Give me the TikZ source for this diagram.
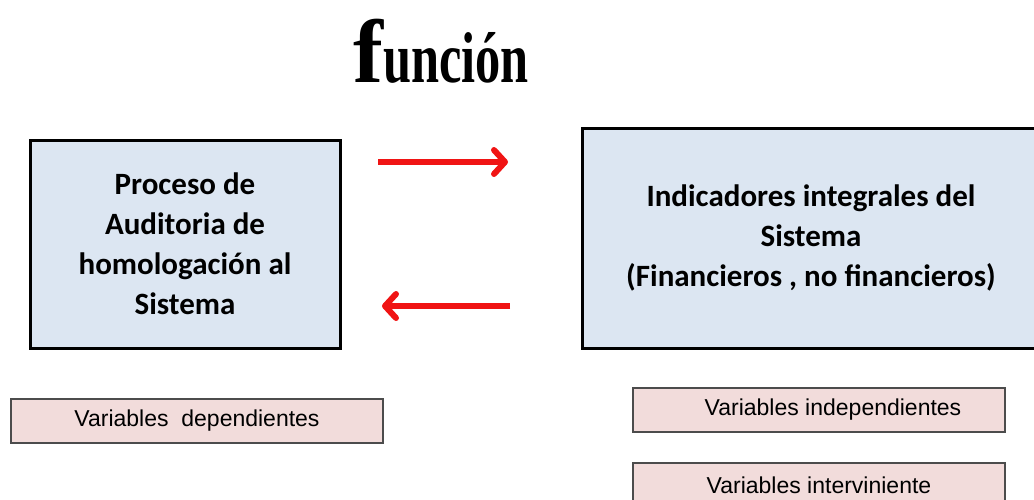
\documentclass[tikz,border=0pt]{standalone}
\usepackage{fontspec}
\usepackage{graphicx}
\setmainfont{Carlito}
\newfontfamily\titulofont{Liberation Serif}
\newfontfamily\arialfont{Liberation Sans}
\usetikzlibrary{arrows.meta}
\definecolor{azulcaja}{RGB}{220,230,242}
\definecolor{rosacaja}{RGB}{242,220,219}
\definecolor{rojoflecha}{RGB}{240,20,20}

\begin{document}
\begin{tikzpicture}[x=1pt, y=-1pt,
    caja/.style={draw=black, line width=3pt, fill=azulcaja, align=center,
      inner sep=0pt, font=\bfseries\fontsize{31}{40}\selectfont},
    varcaja/.style={draw=black!70, line width=2pt, fill=rosacaja,
      inner sep=0pt, minimum width=372pt, minimum height=44pt,
      font=\arialfont\fontsize{23}{26}\selectfont},
    flecha/.style={rojoflecha, line width=6pt,
      -{Straight Barb[length=11pt,width=24pt,round]}}]
  \useasboundingbox (0,0) rectangle (1034,499);

  % titulo
  \node (titulo) [anchor=base west, inner sep=0pt] at (353,82)
    {\titulofont\bfseries{\fontsize{90}{90}\selectfont f}%
     \scalebox{0.7}[1]{\fontsize{72}{72}\selectfont unción}};

  % cajas principales
  \node (proceso) [caja, minimum width=310pt, minimum height=208pt]
    at (185,244) {Proceso de\\Auditoria de\\homologación al\\Sistema};
  \node (indicadores) [caja, minimum width=458pt, minimum height=220pt]
    at (811,238) {Indicadores integrales del\\Sistema\\(Financieros , no financieros)};

  % flechas
  \coordinate (ida1) at (378,162);
  \coordinate (ida2) at (508,162);
  \coordinate (vuelta1) at (510,306);
  \coordinate (vuelta2) at (382,306);
  \draw[flecha] (ida1) -- (ida2);
  \draw[flecha] (vuelta1) -- (vuelta2);

  % variables
  \node (dep) [varcaja] at (197,421) {Variables\ \ dependientes};
  \node (indep) [varcaja] at (819,410) {\hspace{28pt}Variables independientes};
  \node (interv) [varcaja] at (819,485) {Variables interviniente};
\end{tikzpicture}
\end{document}
